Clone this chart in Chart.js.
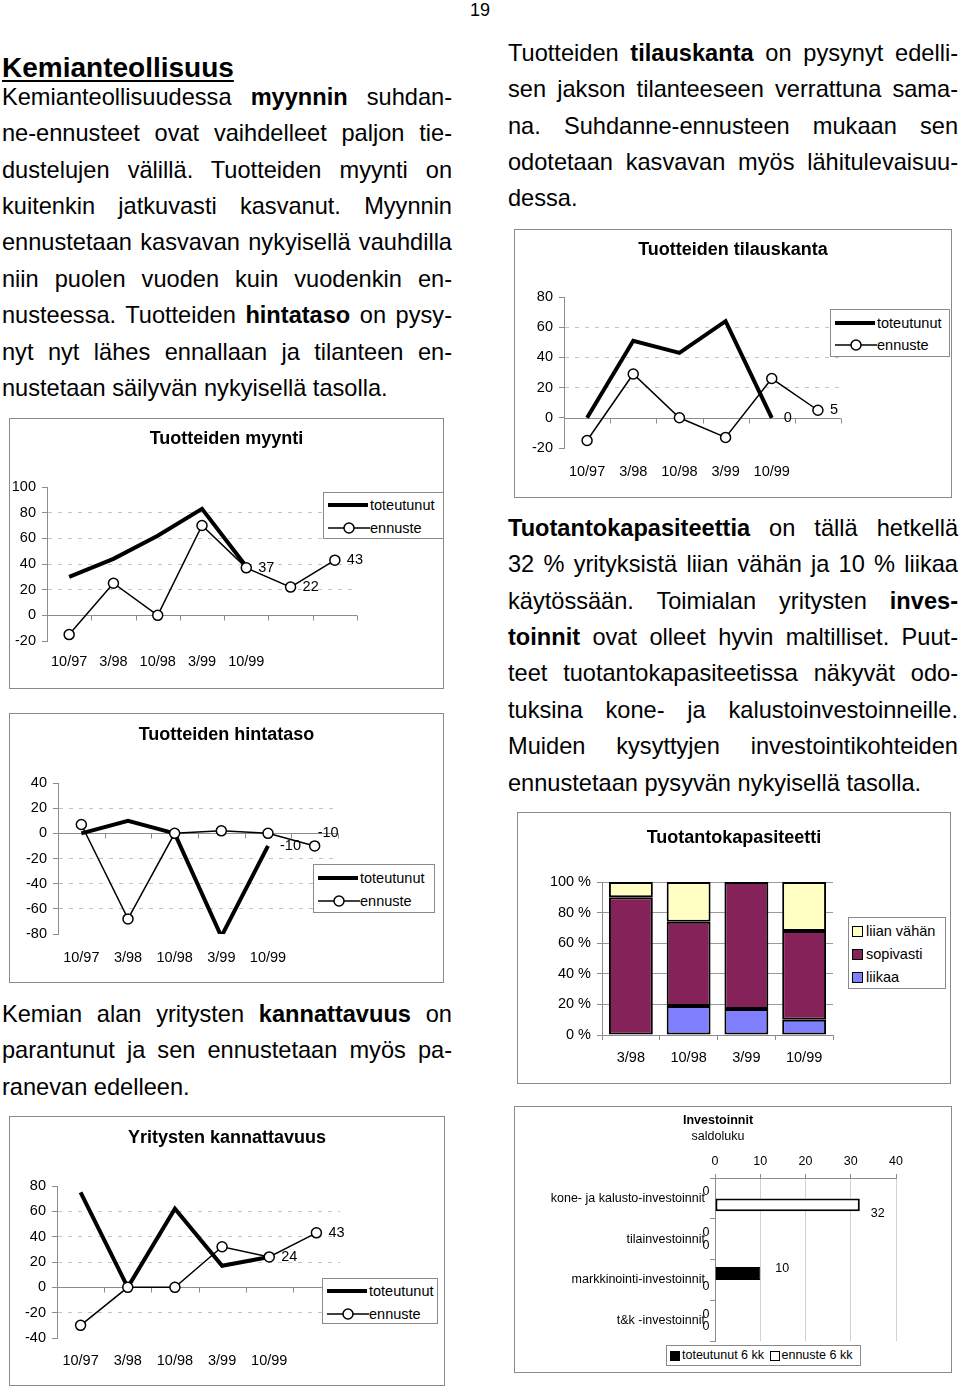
<!DOCTYPE html>
<html>
<head>
<meta charset="utf-8">
<script src="https://cdn.jsdelivr.net/npm/chart.js@4.4.0/dist/chart.umd.min.js"></script>
<style>
  body { margin: 0; width: 960px; height: 1390px; position: relative; background: #fff; color: #000;
         font-family: "Liberation Sans", Arial, Helvetica, sans-serif; overflow: hidden; }
  .p { position: absolute; font-size: 23.6px; line-height: 36.4px; }
  .p div { text-align: justify; text-align-last: justify; }
  .p div.l { text-align-last: left; }
  .h { position: absolute; font-size: 28px; font-weight: bold; line-height: 34px;
       text-decoration: underline; text-decoration-thickness: 2px; text-underline-offset: 3px; }
  .box { position: absolute; }
  .box canvas { position: absolute; left: 0; top: 0; }
  .frame { position: absolute; inset: 0; border: 1px solid #8a8a8a; pointer-events: none; }
  .lg { position: absolute; border: 1px solid #8a8a8a; background: #fff; font-size: 14.5px; }
  .lg .row { position: absolute; left: 4px; height: 20px; line-height: 20px; white-space: nowrap; }
  .lg .row span, .lg .row svg { vertical-align: middle; }
  .thick { display: inline-block; width: 40px; height: 4px; background: #000; margin-right: 2px; }
  .sq { display: inline-block; width: 9px; height: 9px; border: 1px solid #000; margin-right: 3px; }
  .num { position: absolute; left: 460px; width: 40px; top: 0; text-align: center; font-size: 18px; line-height: 20px; }
</style>
</head>
<body>
<div class="num">19</div>

<div class="h" style="left:2px;top:51px">Kemianteollisuus</div>
<div class="p" style="left:2px;top:78.8px;width:450px">
  <div>Kemianteollisuudessa <b>myynnin</b> suhdan-</div>
  <div>ne-ennusteet ovat vaihdelleet paljon tie-</div>
  <div>dustelujen välillä. Tuotteiden myynti on</div>
  <div>kuitenkin jatkuvasti kasvanut. Myynnin</div>
  <div>ennustetaan kasvavan nykyisellä vauhdilla</div>
  <div>niin puolen vuoden kuin vuodenkin en-</div>
  <div>nusteessa. Tuotteiden <b>hintataso</b> on pysy-</div>
  <div>nyt nyt lähes ennallaan ja tilanteen en-</div>
  <div class="l">nustetaan säilyvän nykyisellä tasolla.</div>
</div>

<div class="p" style="left:2px;top:995.8px;width:450px">
  <div>Kemian alan yritysten <b>kannattavuus</b> on</div>
  <div>parantunut ja sen ennustetaan myös pa-</div>
  <div class="l">ranevan edelleen.</div>
</div>

<div class="p" style="left:508px;top:34.8px;width:450px">
  <div>Tuotteiden <b>tilauskanta</b> on pysynyt edelli-</div>
  <div>sen jakson tilanteeseen verrattuna sama-</div>
  <div>na. Suhdanne-ennusteen mukaan sen</div>
  <div>odotetaan kasvavan myös lähitulevaisuu-</div>
  <div class="l">dessa.</div>
</div>

<div class="p" style="left:508px;top:509.8px;width:450px">
  <div><b>Tuotantokapasiteettia</b> on tällä hetkellä</div>
  <div>32 % yrityksistä liian vähän ja 10 % liikaa</div>
  <div>käytössään. Toimialan yritysten <b>inves-</b></div>
  <div><b>toinnit</b> ovat olleet hyvin maltilliset. Puut-</div>
  <div>teet tuotantokapasiteetissa näkyvät odo-</div>
  <div>tuksina kone- ja kalustoinvestoinneille.</div>
  <div>Muiden kysyttyjen investointikohteiden</div>
  <div class="l">ennustetaan pysyvän nykyisellä tasolla.</div>
</div>

<div class="box" style="left:9px;top:418px;width:435px;height:271px"><canvas id="myynti" width="435" height="271"></canvas><div class="frame"></div></div>
<div class="box" style="left:9px;top:713px;width:435px;height:270px"><canvas id="hinta" width="435" height="270"></canvas><div class="frame"></div></div>
<div class="box" style="left:9px;top:1116px;width:436px;height:270px"><canvas id="kann" width="436" height="270"></canvas><div class="frame"></div></div>
<div class="box" style="left:514px;top:229px;width:438px;height:269px"><canvas id="tilaus" width="438" height="269"></canvas><div class="frame"></div></div>
<div class="box" style="left:517px;top:812px;width:434px;height:272px"><canvas id="kapas" width="434" height="272"></canvas><div class="frame"></div></div>
<div class="box" style="left:514px;top:1106px;width:438px;height:267px"><canvas id="inv" width="438" height="267"></canvas><div class="frame"></div></div>

<script>
// kaudet (x-akselin luokat)
const kaudet7 = ['10/97', '3/98', '10/98', '3/99', '10/99', '', ''];
const kaudet6 = ['10/97', '3/98', '10/98', '3/99', '10/99', ''];

// Tuotteiden myynti
const myyntiToteutunut = [30, 44, 62, 83, 38, null, null];
const myyntiEnnuste = [-15, 25, 0, 70, 37, 22, 43];

// Tuotteiden hintataso
const hintaToteutunut = [0, 10, 0, -82, -10, null];
const hintaEnnuste = [7, -68, 0, 2, 0, -10];

// Yritysten kannattavuus
const kannToteutunut = [75, 0, 62, 17, 24, null];
const kannEnnuste = [-30, 0, 0, 32, 24, 43];

// Tuotteiden tilauskanta
const tilausToteutunut = [0, 51, 43, 64, 0, null];
const tilausEnnuste = [-15, 29, 0, -13, 26, 5];

// Tuotantokapasiteetti (%)
const kapasKaudet = ['3/98', '10/98', '3/99', '10/99'];
const kapasLiikaa = [0, 19, 17, 10];
const kapasSopivasti = [90, 55, 83, 58];
const kapasLiianVahan = [10, 26, 0, 32];

// Investoinnit, saldoluku
const invKohteet = ['kone- ja kalusto-investoinnit', 'tilainvestoinnit', 'markkinointi-investoinnit', 't&k -investoinnit'];
const invToteutunut = [0, 0, 10, 0];
const invEnnuste = [32, 0, 0, 0];

Chart.defaults.font.family = '"Liberation Sans", Arial, Helvetica, sans-serif';
Chart.defaults.color = '#000';

const AXIS = '#8c8c8c';

// tyhjä oikea akseli varaa tilan selitteelle, jotta otsikko pysyy keskellä
function spacer(width) {
  return {
    position: 'right', display: true,
    grid: { display: false, drawTicks: false }, border: { display: false }, ticks: { display: false },
    afterFit(s) { s.width = width; }
  };
}

// nollaviiva ja luokkien väliset merkit
const zeroAxis = {
  id: 'zeroAxis',
  beforeDatasetsDraw(chart) {
    const { ctx, chartArea, scales: { x, y } } = chart;
    const y0 = Math.round(y.getPixelForValue(0)) + 0.5;
    const step = x.getPixelForValue(1) - x.getPixelForValue(0);
    ctx.save();
    ctx.strokeStyle = AXIS;
    ctx.lineWidth = 1;
    ctx.beginPath();
    ctx.moveTo(chartArea.left, y0);
    ctx.lineTo(chartArea.right, y0);
    for (let i = 0; i < x.ticks.length; i++) {
      const px = Math.round(x.getPixelForValue(i) + step / 2) + 0.5;
      ctx.moveTo(px, y0);
      ctx.lineTo(px, y0 + 5);
    }
    ctx.stroke();
    ctx.restore();
  }
};

// arvot pisteiden viereen
const valueLabels = {
  id: 'valueLabels',
  afterDatasetsDraw(chart) {
    const ctx = chart.ctx;
    chart.data.datasets.forEach((ds, di) => {
      if (!ds.showValues) return;
      const meta = chart.getDatasetMeta(di);
      ctx.save();
      ctx.font = '14.5px "Liberation Sans", Arial, sans-serif';
      ctx.fillStyle = '#000';
      ctx.textBaseline = 'middle';
      ctx.textAlign = 'left';
      ds.showValues.forEach(i => {
        const el = meta.data[i];
        const off = (ds.valueOffsets && ds.valueOffsets[i]) || [12, 0];
        ctx.fillText(String(ds.data[i]), el.x + off[0], el.y + off[1]);
      });
      ctx.restore();
    });
  }
};

function makeLine(id, title, labels, tot, enn, lim, geo, marks) {
  const padB = 6;
  new Chart(document.getElementById(id), {
    type: 'line',
    data: {
      labels: labels,
      datasets: [
        { label: 'toteutunut', data: tot, borderColor: '#000', borderWidth: 4, pointRadius: 0,
          tension: 0, order: 2, showValues: marks.tot },
        { label: 'ennuste', data: enn, borderColor: '#000', borderWidth: 1.5, pointRadius: 5,
          pointBackgroundColor: '#fff', pointBorderColor: '#000', pointBorderWidth: 1.5,
          tension: 0, order: 1, showValues: marks.enn, valueOffsets: marks.ennOff }
      ]
    },
    options: {
      responsive: false,
      animation: false,
      layout: { padding: { left: 0, right: 0, top: 0, bottom: padB } },
      plugins: {
        legend: { display: false },
        tooltip: { enabled: false },
        title: {
          display: true, text: title, color: '#000',
          font: { size: 18, weight: 'bold' },
          padding: { top: geo.titleY - 10.8, bottom: geo.top - geo.titleY - 10.8 }
        }
      },
      scales: {
        x: {
          offset: true,
          grid: { display: false, drawTicks: false },
          border: { display: false },
          ticks: { padding: geo.labelY - geo.bottom - 8, font: { size: 14.5 }, color: '#000',
                   maxRotation: 0, autoSkip: false },
          afterFit(s) { s.height = geo.h - padB - geo.bottom; }
        },
        y: {
          min: lim[0], max: lim[1],
          ticks: { stepSize: 20, padding: 6, font: { size: 14.5 }, color: '#000' },
          grid: {
            color: c => (c.tick && (c.tick.value === 0 || c.tick.value === lim[0] || c.tick.value === lim[1]))
              ? 'rgba(0,0,0,0)' : '#c4c4c4',
            tickColor: AXIS, tickLength: 5, drawTicks: true
          },
          border: { color: AXIS, dash: [4, 6] },
          afterFit(s) { s.width = geo.axisX; }
        },
        r: spacer(geo.w - geo.right)
      }
    },
    plugins: [zeroAxis, valueLabels]
  });
}

makeLine('myynti', 'Tuotteiden myynti', kaudet7, myyntiToteutunut, myyntiEnnuste, [-20, 100],
  { w: 435, h: 271, axisX: 38, right: 348, top: 69, bottom: 223, titleY: 21, labelY: 243 },
  { tot: [], enn: [4, 5, 6] });

makeLine('hinta', 'Tuotteiden hintataso', kaudet6, hintaToteutunut, hintaEnnuste, [-80, 40],
  { w: 435, h: 270, axisX: 49, right: 329, top: 70, bottom: 221, titleY: 22, labelY: 244 },
  { tot: [4], enn: [5], ennOff: { 5: [3, -13] } });

makeLine('kann', 'Yritysten kannattavuus', kaudet6, kannToteutunut, kannEnnuste, [-40, 80],
  { w: 436, h: 270, axisX: 48, right: 331, top: 70, bottom: 222, titleY: 22, labelY: 244 },
  { tot: [], enn: [4, 5] });

makeLine('tilaus', 'Tuotteiden tilauskanta', kaudet6, tilausToteutunut, tilausEnnuste, [-20, 80],
  { w: 438, h: 269, axisX: 50, right: 327, top: 68, bottom: 219, titleY: 21, labelY: 242 },
  { tot: [4], enn: [5] });

// Tuotantokapasiteetti
new Chart(document.getElementById('kapas'), {
  type: 'bar',
  data: {
    labels: kapasKaudet,
    datasets: [
      { label: 'liikaa', data: kapasLiikaa, backgroundColor: '#8080ff' },
      { label: 'sopivasti', data: kapasSopivasti, backgroundColor: '#852259' },
      { label: 'liian vähän', data: kapasLiianVahan, backgroundColor: '#ffffc4' }
    ].map(d => Object.assign(d, { borderColor: '#000', borderWidth: 2, borderSkipped: false,
                                  barPercentage: 0.76, categoryPercentage: 1 }))
  },
  options: {
    responsive: false,
    animation: false,
    layout: { padding: { left: 0, right: 0, top: 0, bottom: 6 } },
    plugins: {
      legend: { display: false },
      tooltip: { enabled: false },
      title: { display: true, text: 'Tuotantokapasiteetti', color: '#000', font: { size: 18, weight: 'bold' },
               padding: { top: 26 - 10.8, bottom: 70 - 26 - 10.8 } }
    },
    scales: {
      x: {
        stacked: true,
        grid: { drawOnChartArea: false, offset: true, tickColor: AXIS, tickLength: 5, color: AXIS },
        border: { color: AXIS },
        ticks: { padding: 9, font: { size: 14.5 }, color: '#000' },
        afterFit(s) { s.height = 272 - 6 - 223; }
      },
      y: {
        stacked: true, min: 0, max: 100,
        ticks: { stepSize: 20, padding: 6, font: { size: 14.5 }, color: '#000', callback: v => v + ' %' },
        grid: { color: c => (c.tick && c.tick.value === 0) ? 'rgba(0,0,0,0)' : '#9a9a9a', tickColor: AXIS, tickLength: 5 },
        border: { color: AXIS },
        afterFit(s) { s.width = 85; }
      },
      r: spacer(434 - 316)
    }
  }
});

// Investoinnit
const barValues = {
  id: 'barValues',
  afterDatasetsDraw(chart) {
    const ctx = chart.ctx;
    ctx.save();
    ctx.font = '12.5px "Liberation Sans", Arial, sans-serif';
    ctx.fillStyle = '#000';
    ctx.textAlign = 'center';
    ctx.textBaseline = 'middle';
    chart.data.datasets.forEach((ds, di) => {
      chart.getDatasetMeta(di).data.forEach((el, i) => {
        const v = ds.data[i];
        if (v === 0) {
          ctx.fillText('0', el.base - 9, el.y);
        } else {
          ctx.fillText(String(v), el.x + ds.valueOffset[0], el.y + ds.valueOffset[1]);
        }
      });
    });
    ctx.restore();
  }
};

new Chart(document.getElementById('inv'), {
  type: 'bar',
  data: {
    labels: invKohteet,
    datasets: [
      { label: 'toteutunut 6 kk', data: invToteutunut, backgroundColor: '#000', borderColor: '#000',
        borderWidth: 1, valueOffset: [22, -5] },
      { label: 'ennuste 6 kk', data: invEnnuste, backgroundColor: '#fff', borderColor: '#000',
        borderWidth: 2, borderSkipped: false, valueOffset: [18, 9] }
    ].map(d => Object.assign(d, { barPercentage: 1, categoryPercentage: 0.63 }))
  },
  options: {
    indexAxis: 'y',
    responsive: false,
    animation: false,
    layout: { padding: { left: 26, right: 56, top: 0, bottom: 32 } },
    plugins: {
      legend: { display: false },
      tooltip: { enabled: false },
      title: { display: true, text: 'Investoinnit', color: '#000', font: { size: 12.5, weight: 'bold' },
               padding: { top: 7.5, bottom: 1 } },
      subtitle: { display: true, text: 'saldoluku', color: '#000', font: { size: 12.5 },
                  padding: { top: 0, bottom: 0 } }
    },
    scales: {
      x: {
        position: 'top', min: 0, max: 40,
        ticks: { stepSize: 10, padding: 5, font: { size: 12.5 }, color: '#000' },
        grid: { color: c => (c.tick && c.tick.value === 0) ? 'rgba(0,0,0,0)' : '#d2d2d2', tickColor: AXIS, tickLength: 4 },
        border: { color: AXIS },
        afterFit(s) { s.height = 72 - 7.5 - 15 - 1 - 15; }
      },
      y: {
        grid: { drawOnChartArea: false, offset: true, tickColor: AXIS, tickLength: 5, color: AXIS },
        border: { color: AXIS },
        ticks: { padding: 5, font: { size: 12.5 }, color: '#000' },
        afterFit(s) { s.width = 175; }
      }
    }
  },
  plugins: [barValues]
});
</script>

<!-- selitteet -->
<div class="lg" style="left:323px;top:492px;width:119px;height:45px">
  <div class="row" style="top:1px"><span class="thick"></span><span>toteutunut</span></div>
  <div class="row" style="top:24px"><svg width="42" height="12"><line x1="0" y1="6" x2="42" y2="6" stroke="#000" stroke-width="1.5"/><circle cx="21" cy="6" r="5" fill="#fff" stroke="#000" stroke-width="1.5"/></svg><span>ennuste</span></div>
</div>
<div class="lg" style="left:313px;top:864px;width:120px;height:47px">
  <div class="row" style="top:2px"><span class="thick"></span><span>toteutunut</span></div>
  <div class="row" style="top:25px"><svg width="42" height="12"><line x1="0" y1="6" x2="42" y2="6" stroke="#000" stroke-width="1.5"/><circle cx="21" cy="6" r="5" fill="#fff" stroke="#000" stroke-width="1.5"/></svg><span>ennuste</span></div>
</div>
<div class="lg" style="left:322px;top:1278px;width:114px;height:44px">
  <div class="row" style="top:1px"><span class="thick"></span><span>toteutunut</span></div>
  <div class="row" style="top:24px"><svg width="42" height="12"><line x1="0" y1="6" x2="42" y2="6" stroke="#000" stroke-width="1.5"/><circle cx="21" cy="6" r="5" fill="#fff" stroke="#000" stroke-width="1.5"/></svg><span>ennuste</span></div>
</div>
<div class="lg" style="left:830px;top:309px;width:118px;height:46px">
  <div class="row" style="top:2px"><span class="thick"></span><span>toteutunut</span></div>
  <div class="row" style="top:24px"><svg width="42" height="12"><line x1="0" y1="6" x2="42" y2="6" stroke="#000" stroke-width="1.5"/><circle cx="21" cy="6" r="5" fill="#fff" stroke="#000" stroke-width="1.5"/></svg><span>ennuste</span></div>
</div>
<div class="lg" style="left:848px;top:917px;width:96px;height:70px">
  <div class="row" style="top:2px;left:3px"><span class="sq" style="background:#ffffc4"></span><span>liian vähän</span></div>
  <div class="row" style="top:25px;left:3px"><span class="sq" style="background:#852259"></span><span>sopivasti</span></div>
  <div class="row" style="top:48px;left:3px"><span class="sq" style="background:#8080ff"></span><span>liikaa</span></div>
</div>
<div class="lg" style="left:666px;top:1345px;width:193px;height:19px;font-size:12.5px">
  <div class="row" style="top:0;left:3px;height:19px;line-height:19px"><span class="sq" style="background:#000;width:8px;height:8px;margin-right:2px"></span><span>toteutunut 6 kk</span> <span class="sq" style="background:#fff;width:8px;height:8px;margin-right:2px;margin-left:2px"></span><span>ennuste 6 kk</span></div>
</div>
</body>
</html>
